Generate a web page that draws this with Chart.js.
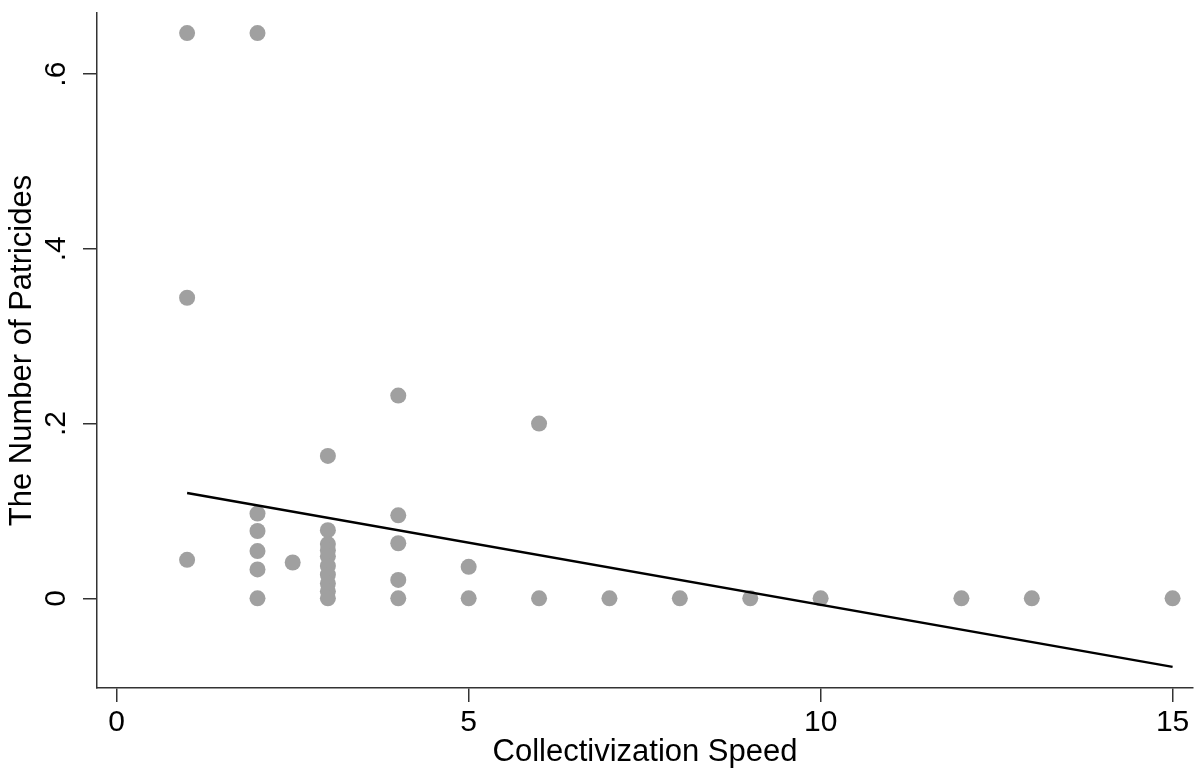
<!DOCTYPE html>
<html>
<head>
<meta charset="utf-8">
<script src="https://cdn.jsdelivr.net/npm/chart.js@4.4.1/dist/chart.umd.min.js"></script>
<style>
  body { margin: 0; background: #fff; }
</style>
</head>
<body>
<canvas id="patricideChart" width="1195" height="771"></canvas>
<script>
// collectivization speed (x) and number of patricides (y), one entry per point
const speedX = [
  1, 1, 1,
  2, 2, 2, 2, 2, 2,
  2.5,
  3, 3, 3, 3, 3, 3, 3, 3, 3, 3,
  4, 4, 4, 4, 4,
  5, 5,
  6, 6,
  7, 8, 9, 10, 12, 13, 15
];
const patricideY = [
  0.647, 0.344, 0.044,
  0.647, 0.097, 0.077, 0.054, 0.033, 0,
  0.041,
  0.163, 0.078, 0.062, 0.055, 0.048, 0.037, 0.027, 0.017, 0.008, 0,
  0.232, 0.095, 0.063, 0.021, 0,
  0.036, 0,
  0.2, 0,
  0, 0, 0, 0, 0, 0, 0
];

// fitted line, end points
const fitX = [1, 15];
const fitY = [0.1205, -0.0785];

const xTicks = [0, 5, 10, 15];
const yTicks = [0, 0.2, 0.4, 0.6];
const yTickLabels = ['0', '.2', '.4', '.6'];

const FONT = "'Liberation Sans', Arial, sans-serif";
const AXIS_COLOR = '#333';

// y tick labels are drawn rotated, like the original
const rotatedYLabels = {
  id: 'rotatedYLabels',
  afterDraw(chart) {
    const ctx = chart.ctx;
    const yScale = chart.scales.y;
    ctx.save();
    ctx.fillStyle = '#000';
    ctx.font = '30px ' + FONT;
    ctx.textAlign = 'center';
    ctx.textBaseline = 'middle';
    yTicks.forEach((v, i) => {
      const y = yScale.getPixelForValue(v);
      ctx.save();
      ctx.translate(57, y);
      ctx.rotate(-Math.PI / 2);
      ctx.fillText(yTickLabels[i], 0, 0);
      ctx.restore();
    });
    ctx.restore();
  }
};

document.addEventListener('DOMContentLoaded', () => {
  const ctx = document.getElementById('patricideChart').getContext('2d');

  const points = speedX.map((x, i) => ({ x: x, y: patricideY[i] }));
  const fitLine = fitX.map((x, i) => ({ x: x, y: fitY[i] }));

  new Chart(ctx, {
    type: 'scatter',
    data: {
      datasets: [
        {
          label: 'fit',
          data: fitLine,
          showLine: true,
          borderColor: '#000',
          borderWidth: 2.5,
          pointRadius: 0,
          fill: false,
          order: 0
        },
        {
          label: 'patricides',
          data: points,
          backgroundColor: '#a0a0a0',
          borderWidth: 0,
          pointRadius: 8,
          order: 1
        }
      ]
    },
    options: {
      responsive: false,
      animation: false,
      layout: { autoPadding: false, padding: { top: 13, right: 2, left: 0, bottom: 0 } },
      plugins: {
        legend: { display: false },
        tooltip: { enabled: false }
      },
      scales: {
        x: {
          type: 'linear',
          min: -0.28,
          max: 15.29,
          afterBuildTicks: (scale) => { scale.ticks = xTicks.map(v => ({ value: v })); },
          afterFit: (scale) => { scale.height = 83; },
          grid: { display: true, drawOnChartArea: false, drawTicks: true, tickLength: 14, color: AXIS_COLOR, lineWidth: 1.5 },
          border: { display: true, color: AXIS_COLOR, width: 1.5 },
          ticks: {
            color: '#000',
            font: { family: FONT, size: 30 },
            padding: 3,
            maxRotation: 0,
            callback: (v) => String(v)
          },
          title: {
            display: true,
            text: 'Collectivization Speed',
            color: '#000',
            font: { family: FONT, size: 31 },
            padding: { top: 0, bottom: 0 }
          }
        },
        y: {
          type: 'linear',
          min: -0.1027,
          max: 0.670,
          afterBuildTicks: (scale) => { scale.ticks = yTicks.map(v => ({ value: v })); },
          afterFit: (scale) => { scale.width = 97; },
          grid: { display: true, drawOnChartArea: false, drawTicks: true, tickLength: 14, color: AXIS_COLOR, lineWidth: 1.5 },
          border: { display: true, color: AXIS_COLOR, width: 1.5 },
          ticks: { display: false },
          title: {
            display: true,
            text: 'The Number of Patricides',
            color: '#000',
            font: { family: FONT, size: 31 },
            padding: { top: 4, bottom: 0 }
          }
        }
      }
    },
    plugins: [rotatedYLabels]
  });
});
</script>
</body>
</html>
